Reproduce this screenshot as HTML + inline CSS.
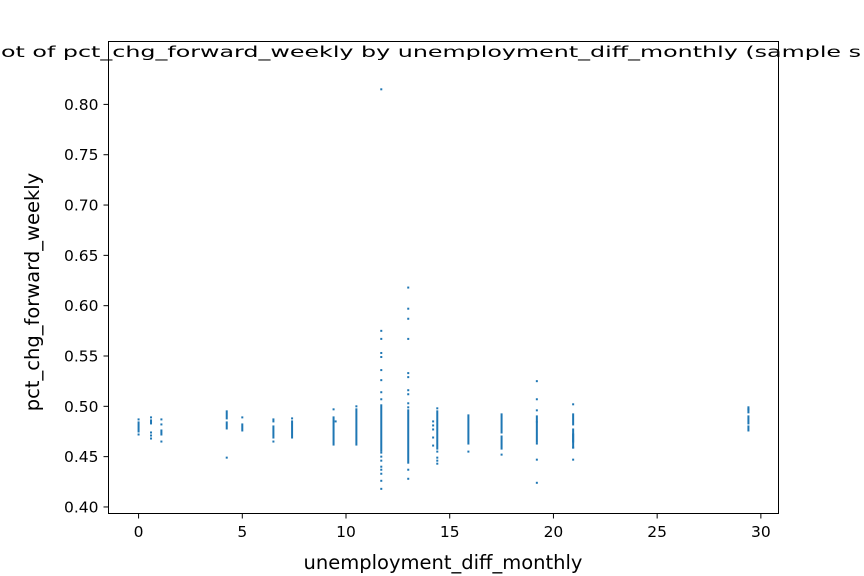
<!DOCTYPE html>
<html><head><meta charset="utf-8"><style>
body{margin:0;background:#fff}
svg{display:block;font-family:"DejaVu Sans","Liberation Sans",sans-serif}
</style></head><body>
<svg id="chart" width="864" height="576" viewBox="0 0 864 576">
<rect x="0" y="0" width="864" height="576" fill="#fff"/>
<text x="1" y="57" font-size="15" textLength="860" lengthAdjust="spacingAndGlyphs">ot of pct_chg_forward_weekly by unemployment_diff_monthly (sample s</text>
<g id="marks"></g>
<rect x="108.5" y="41.5" width="670" height="472" fill="none" stroke="#000" stroke-width="1"/>
<g id="axes"></g>
<text x="443" y="569" font-size="19.5" text-anchor="middle">unemployment_diff_monthly</text>
<text transform="translate(39,292) rotate(-90)" font-size="19.5" text-anchor="middle">pct_chg_forward_weekly</text>
</svg>
<script>
const xTicks=[0,5,10,15,20,25,30];
const yTicks=[0.40,0.45,0.50,0.55,0.60,0.65,0.70,0.75,0.80];
const yTickLabels=["0.40","0.45","0.50","0.55","0.60","0.65","0.70","0.75","0.80"];
// dense vertical runs of points
const segX=[0,0.6,1.1,4.25,4.25,5,6.5,6.5,7.4,9.4,10.5,11.7,13,14.4,15.9,17.5,17.5,19.2,19.2,20.95,20.95,20.95,29.4,29.4,29.4];
const segLo=[0.475,0.483,0.472,0.478,0.488,0.476,0.471,0.485,0.469,0.462,0.462,0.456,0.444,0.458,0.463,0.458,0.474,0.465,0.485,0.482,0.465,0.459,0.494,0.483,0.476];
const segHi=[0.484,0.486,0.476,0.484,0.495,0.482,0.480,0.487,0.485,0.489,0.497,0.501,0.496,0.495,0.491,0.470,0.492,0.484,0.490,0.492,0.477,0.472,0.499,0.490,0.480];
// isolated points
const ptX=[0,0,0.6,0.6,0.6,0.6,1.1,1.1,1.1,4.25,5,6.5,6.5,7.4,9.4,9.5,10.5,
11.7,11.7,11.7,11.7,11.7,11.7,11.7,11.7,11.7,11.7,11.7,11.7,11.7,11.7,11.7,11.7,11.7,
13,13,13,13,13,13,13,13,13,13,13,13,
14.2,14.2,14.2,14.2,14.2,14.4,14.4,14.4,14.4,14.4,15.9,17.5,
19.2,19.2,19.2,19.2,19.2,19.2,20.95,20.95,20.95,29.4];
const ptY=[0.487,0.472,0.489,0.474,0.471,0.468,0.487,0.482,0.465,0.449,0.489,0.465,0.469,0.488,0.497,0.485,0.500,
0.815,0.575,0.567,0.553,0.549,0.536,0.526,0.514,0.507,0.454,0.450,0.446,0.440,0.437,0.433,0.426,0.418,
0.618,0.597,0.587,0.567,0.533,0.529,0.516,0.512,0.503,0.499,0.437,0.428,
0.485,0.481,0.477,0.469,0.461,0.498,0.455,0.449,0.446,0.443,0.455,0.452,
0.525,0.507,0.496,0.463,0.447,0.424,0.502,0.459,0.447,0.497];
const X0=108.5,X1=778.5,Y0=513.5,Y1=41.5;
const xmin=-1.45,xmax=30.85,ymin=0.3935,ymax=0.8625;
function sx(v){return X0+(v-xmin)/(xmax-xmin)*(X1-X0);}
function sy(v){return Y0-(v-ymin)/(ymax-ymin)*(Y0-Y1);}
const NS="http://www.w3.org/2000/svg";
const marks=document.getElementById('marks');
const axes=document.getElementById('axes');
const C="#1f77b4";
for(let i=0;i<segX.length;i++){
  const r=document.createElementNS(NS,'rect');
  
  
  const t=sy(segHi[i])-1,b=sy(segLo[i])+1;
  r.setAttribute('x',sx(segX[i])-1);r.setAttribute('y',t);
  r.setAttribute('width',2);r.setAttribute('height',b-t);
  r.setAttribute('fill',C);marks.appendChild(r);
}
for(let i=0;i<ptX.length;i++){
  const r=document.createElementNS(NS,'rect');
  
  
  r.setAttribute('x',sx(ptX[i])-1);r.setAttribute('y',sy(ptY[i])-1);
  r.setAttribute('width',2);r.setAttribute('height',2);
  r.setAttribute('fill',C);marks.appendChild(r);
}
xTicks.forEach(v=>{
  const x=sx(v);
  const l=document.createElementNS(NS,'line');
  
  
  l.setAttribute('x1',x);l.setAttribute('x2',x);l.setAttribute('y1',Y0);l.setAttribute('y2',Y0+5);
  l.setAttribute('stroke','#000');axes.appendChild(l);
  const t=document.createElementNS(NS,'text');
  
  
  t.setAttribute('x',x);t.setAttribute('y',537);t.setAttribute('font-size','15.5');
  t.setAttribute('text-anchor','middle');t.textContent=String(v);axes.appendChild(t);
});
yTicks.forEach((v,i)=>{
  const y=sy(v);
  const l=document.createElementNS(NS,'line');
  
  
  l.setAttribute('x1',X0-5);l.setAttribute('x2',X0);l.setAttribute('y1',y);l.setAttribute('y2',y);
  l.setAttribute('stroke','#000');axes.appendChild(l);
  const t=document.createElementNS(NS,'text');
  
  
  t.setAttribute('x',X0-10);t.setAttribute('y',y+5.5);t.setAttribute('font-size','15.5');
  t.setAttribute('text-anchor','end');t.textContent=yTickLabels[i];axes.appendChild(t);
});
</script>
</body></html>
